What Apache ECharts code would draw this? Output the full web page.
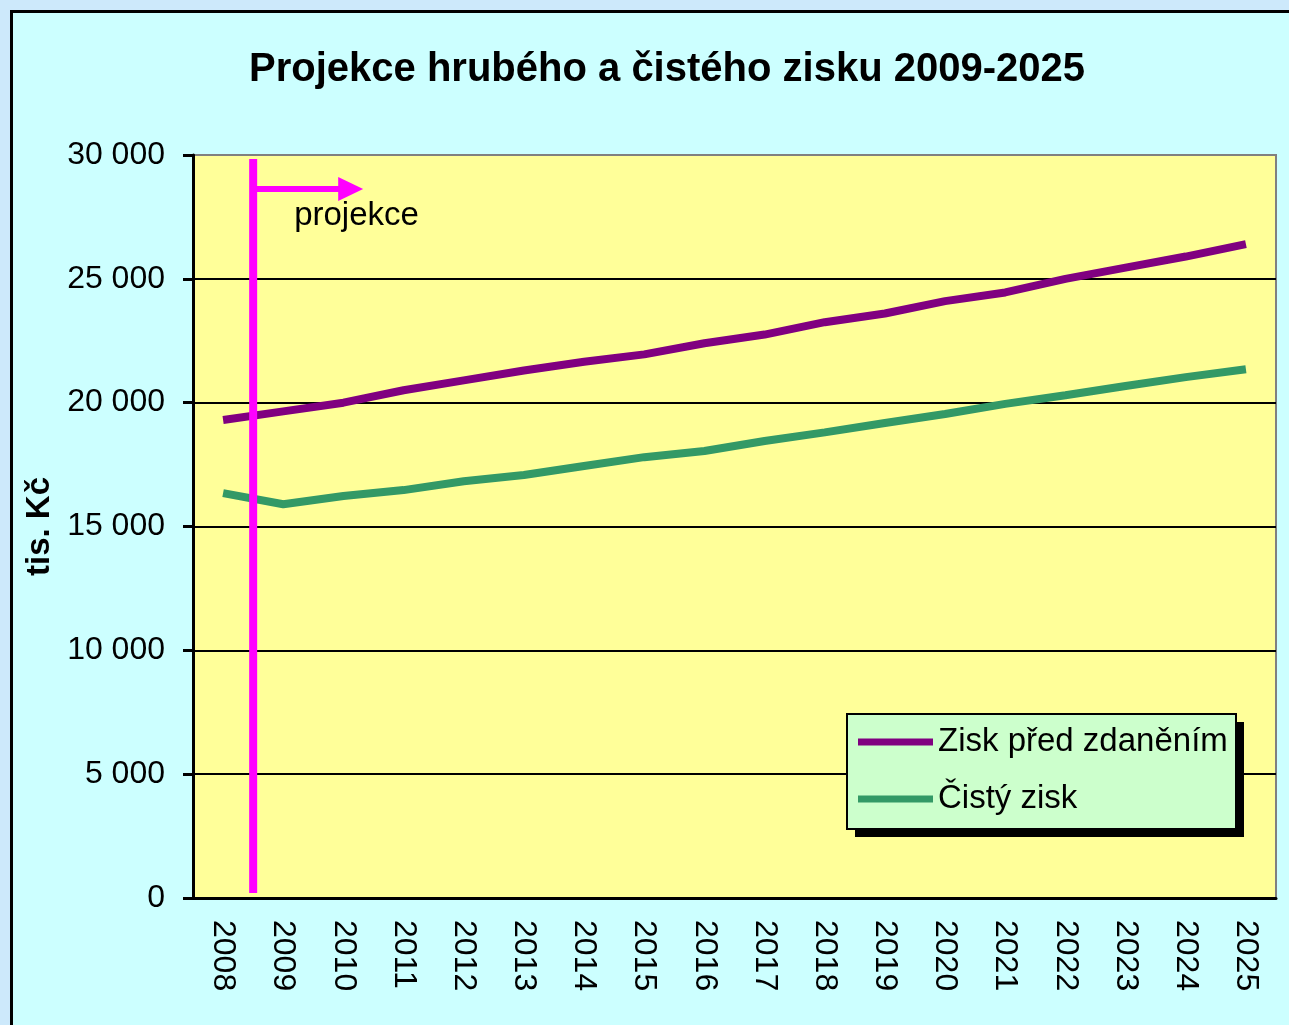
<!DOCTYPE html>
<html>
<head>
<meta charset="utf-8">
<script src="https://cdn.jsdelivr.net/npm/echarts@6/dist/echarts.min.js"></script>
<style>
  html, body { margin: 0; padding: 0; overflow: hidden; background: #cde9fb; }
  .frame {
    position: absolute; left: 10px; top: 10px;
    width: 1300px; height: 1040px;
    background: #ccffff; border: 3px solid #000;
  }
  #chart { position: absolute; left: 0; top: 0; width: 1289px; height: 1025px; }
</style>
</head>
<body>
<div class="frame"></div>
<div id="chart"></div>
<script>
const years = ['2008', '2009', '2010', '2011', '2012', '2013', '2014', '2015', '2016',
  '2017', '2018', '2019', '2020', '2021', '2022', '2023', '2024', '2025']
// tis. Kč
const ziskPredZdanenim = [19300, 19650, 20000, 20500, 20900, 21300, 21650, 21950, 22400,
  22750, 23250, 23600, 24100, 24450, 25000, 25450, 25900, 26400]
const cistyZisk = [16350, 15900, 16230, 16470, 16830, 17080, 17440, 17800, 18050,
  18450, 18800, 19180, 19540, 19950, 20300, 20670, 21030, 21350]
const projekceStart = ['2008', '2009'] // svislá čára mezi těmito roky

const font = 'Liberation Sans, Arial, sans-serif'
const chart = echarts.init(document.getElementById('chart'))

// rámeček legendy (kreslený zvlášť kvůli ostrému stínu)
const legendBox = { x: 847, y: 714, w: 389, h: 115 }

const option = {
  backgroundColor: 'transparent',
  title: {
    text: 'Projekce hrubého a čistého zisku 2009-2025',
    left: 662,
    textAlign: 'center',
    top: 45,
    textStyle: { fontFamily: font, fontSize: 40, fontWeight: 'bold', color: '#000' }
  },
  grid: {
    left: 193,
    right: 13,
    top: 155,
    bottom: 127,
    show: true,
    backgroundColor: '#ffff99',
    borderColor: '#808080',
    borderWidth: 2
  },
  legend: {
    orient: 'vertical',
    left: legendBox.x,
    top: legendBox.y,
    icon: 'rect',
    itemWidth: 75,
    itemHeight: 7,
    itemGap: 23,
    padding: [11, 8, 14, 11],
    z: 12,
    textStyle: { fontFamily: font, fontSize: 33, lineHeight: 34, color: '#000' },
    data: ['Zisk před zdaněním', 'Čistý zisk']
  },
  xAxis: {
    type: 'category',
    data: years,
    boundaryGap: true,
    axisLine: { lineStyle: { color: '#000', width: 3 } },
    axisTick: { length: 10, lineStyle: { color: '#000', width: 3 } },
    axisLabel: {
      rotate: -90,
      margin: 22,
      interval: 0,
      fontFamily: font,
      fontSize: 32,
      color: '#000'
    }
  },
  yAxis: {
    type: 'value',
    min: 0,
    max: 30000,
    interval: 5000,
    name: 'tis. Kč',
    nameLocation: 'middle',
    nameRotate: 90,
    nameGap: 136,
    nameTextStyle: { fontFamily: font, fontSize: 33, fontWeight: 'bold', color: '#000' },
    axisLine: { show: true, lineStyle: { color: '#000', width: 3 } },
    axisTick: { show: true, length: 10, lineStyle: { color: '#000', width: 3 } },
    axisLabel: {
      margin: 28,
      fontFamily: font,
      fontSize: 32,
      color: '#000',
      formatter: v => String(v).replace(/\B(?=(\d{3})+(?!\d))/g, ' ')
    },
    splitLine: {
      lineStyle: {
        color: ['#000', '#000', '#000', '#000', '#000', '#000', '#808080'],
        width: 2
      }
    }
  },
  series: [
    {
      name: 'Zisk před zdaněním',
      type: 'line',
      data: ziskPredZdanenim,
      symbol: 'none',
      color: '#800080',
      lineStyle: { width: 8, color: '#800080' },
      z: 3
    },
    {
      name: 'Čistý zisk',
      type: 'line',
      data: cistyZisk,
      symbol: 'none',
      color: '#339966',
      lineStyle: { width: 8, color: '#339966' },
      z: 3
    }
  ]
}

chart.setOption(option)

// svislá čára "projekce" na hranici mezi roky, spočítaná přes osy
const xa = chart.convertToPixel({ xAxisIndex: 0 }, projekceStart[0])
const xb = chart.convertToPixel({ xAxisIndex: 0 }, projekceStart[1])
const x0 = (xa + xb) / 2
const yTop = chart.convertToPixel({ yAxisIndex: 0 }, 30000) + 4
const yBottom = chart.convertToPixel({ yAxisIndex: 0 }, 0) - 5
const yArrow = yTop + 30

chart.setOption({
  graphic: [
    {
      type: 'line',
      z: 10,
      shape: { x1: x0, y1: yTop, x2: x0, y2: yBottom },
      style: { stroke: '#ff00ff', lineWidth: 8 }
    },
    {
      type: 'line',
      z: 10,
      shape: { x1: x0, y1: yArrow, x2: x0 + 88, y2: yArrow },
      style: { stroke: '#ff00ff', lineWidth: 6 }
    },
    {
      type: 'polygon',
      z: 10,
      shape: { points: [[x0 + 85, yArrow - 12], [x0 + 110, yArrow], [x0 + 85, yArrow + 12]] },
      style: { fill: '#ff00ff' }
    },
    {
      type: 'text',
      z: 10,
      x: x0 + 41,
      y: yArrow + 27,
      style: {
        text: 'projekce',
        font: '33px ' + font,
        fill: '#000',
        verticalAlign: 'middle'
      }
    },
    // stín a pozadí legendy
    {
      type: 'rect',
      z: 10,
      shape: { x: legendBox.x + 8, y: legendBox.y + 8, width: legendBox.w, height: legendBox.h },
      style: { fill: '#000' }
    },
    {
      type: 'rect',
      z: 11,
      shape: { x: legendBox.x, y: legendBox.y, width: legendBox.w, height: legendBox.h },
      style: { fill: '#ccffcc', stroke: '#000', lineWidth: 2 }
    }
  ]
})

window.addEventListener('resize', () => chart.resize())
</script>
</body>
</html>
